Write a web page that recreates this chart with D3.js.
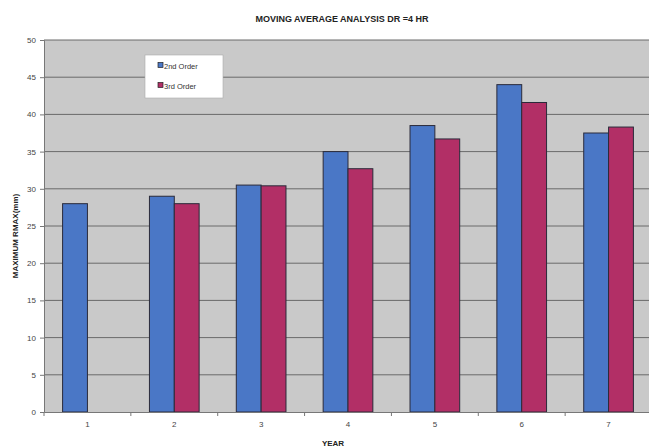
<!DOCTYPE html>
<html><head><meta charset="utf-8">
<script src="https://cdn.jsdelivr.net/npm/d3@7"></script>
<style>body{margin:0;background:#fff}svg{display:block}text{font-family:Arial,"Liberation Sans",sans-serif}</style>
</head><body><svg id="c" width="649" height="447"></svg>
<script>
const years = ["1","2","3","4","5","6","7"];
const series = ["2nd Order","3rd Order"];
const order2 = [28, 29, 30.5, 35, 38.5, 44, 37.5];
const order3 = [null, 28, 30.4, 32.7, 36.7, 41.6, 38.3];
const yTicks = [0,5,10,15,20,25,30,35,40,45,50];
const colors = ["#4a77c6", "#b22f66"];

(function(){
const svg = d3.select("#c");
const pL = 44, pR = 652, pT = 40, pB = 412;
const x = d3.scaleBand().domain(years).range([pL, pR]).paddingInner(0.428).paddingOuter(0.214);
const xs = d3.scaleBand().domain(series).range([0, x.bandwidth()]);
const y = d3.scaleLinear().domain([0, 50]).range([pB, pT]);

svg.append("rect").attr("x", pL).attr("y", pT).attr("width", pR-pL).attr("height", pB-pT).attr("fill", "#c9c9c9");

// gridlines
svg.append("g").selectAll("line").data(yTicks.filter(d=>d>0)).join("line")
  .attr("x1", pL).attr("x2", pR).attr("y1", d=>y(d)).attr("y2", d=>y(d))
  .attr("stroke", "#6a6a6a").attr("stroke-width", 1);

// bars
const data = [];
years.forEach((yr,i)=>{
  if (order2[i]!=null) data.push({yr, s:series[0], v:order2[i], c:colors[0]});
  if (order3[i]!=null) data.push({yr, s:series[1], v:order3[i], c:colors[1]});
});
svg.append("g").selectAll("rect").data(data).join("rect")
  .attr("x", d=>x(d.yr)+xs(d.s)).attr("width", xs.bandwidth())
  .attr("y", d=>y(d.v)).attr("height", d=>y(0)-y(d.v))
  .attr("fill", d=>d.c).attr("stroke", "#2a2a3a").attr("stroke-width", 1);

// y axis
const ya = svg.append("g").attr("transform", `translate(${pL},0)`)
  .call(d3.axisLeft(y).tickValues(yTicks).tickSize(4).tickPadding(4));
ya.select(".domain").attr("stroke", "#777");
ya.selectAll(".tick line").attr("stroke", "#777");
ya.selectAll("text").attr("font-size", 8).attr("fill", "#444");

// x axis
const step = x.step();
const xa = svg.append("g").attr("transform", `translate(0,${pB})`)
  .call(d3.axisBottom(x).tickSize(0).tickPadding(9));
xa.select(".domain").attr("stroke", "#777");
xa.selectAll("text").attr("font-size", 8).attr("fill", "#444");
svg.append("g").selectAll("line").data(d3.range(0, 8)).join("line")
  .attr("x1", i=>pL + i*step).attr("x2", i=>pL + i*step)
  .attr("y1", pB).attr("y2", pB+4).attr("stroke", "#777");

// titles
svg.append("text").attr("x", 342).attr("y", 22).attr("text-anchor","middle")
  .attr("font-size", 9).attr("font-weight","bold").attr("fill","#222").text("MOVING AVERAGE ANALYSIS DR =4 HR");
svg.append("text").attr("x", 333).attr("y", 446).attr("text-anchor","middle")
  .attr("font-size", 8).attr("font-weight","bold").attr("fill","#222").text("YEAR");
svg.append("text").attr("transform","translate(18,236) rotate(-90)").attr("text-anchor","middle")
  .attr("font-size", 8).attr("font-weight","bold").attr("fill","#222").text("MAXIMUM RMAX(mm)");

// legend
const lg = svg.append("g");
lg.append("rect").attr("x",145).attr("y",55).attr("width",78).attr("height",43)
  .attr("fill","#fff").attr("stroke","#aaa").attr("stroke-width",0.6);
series.forEach((s,i)=>{
  const yy = 66 + i*20;
  lg.append("rect").attr("x",158).attr("y",yy-3.5).attr("width",5).attr("height",5)
    .attr("fill",colors[i]).attr("stroke","#222").attr("stroke-width",0.7);
  lg.append("text").attr("x",164).attr("y",yy+2.5).attr("font-size",7.5).attr("fill","#333").text(s);
});
})();
</script></body></html>
